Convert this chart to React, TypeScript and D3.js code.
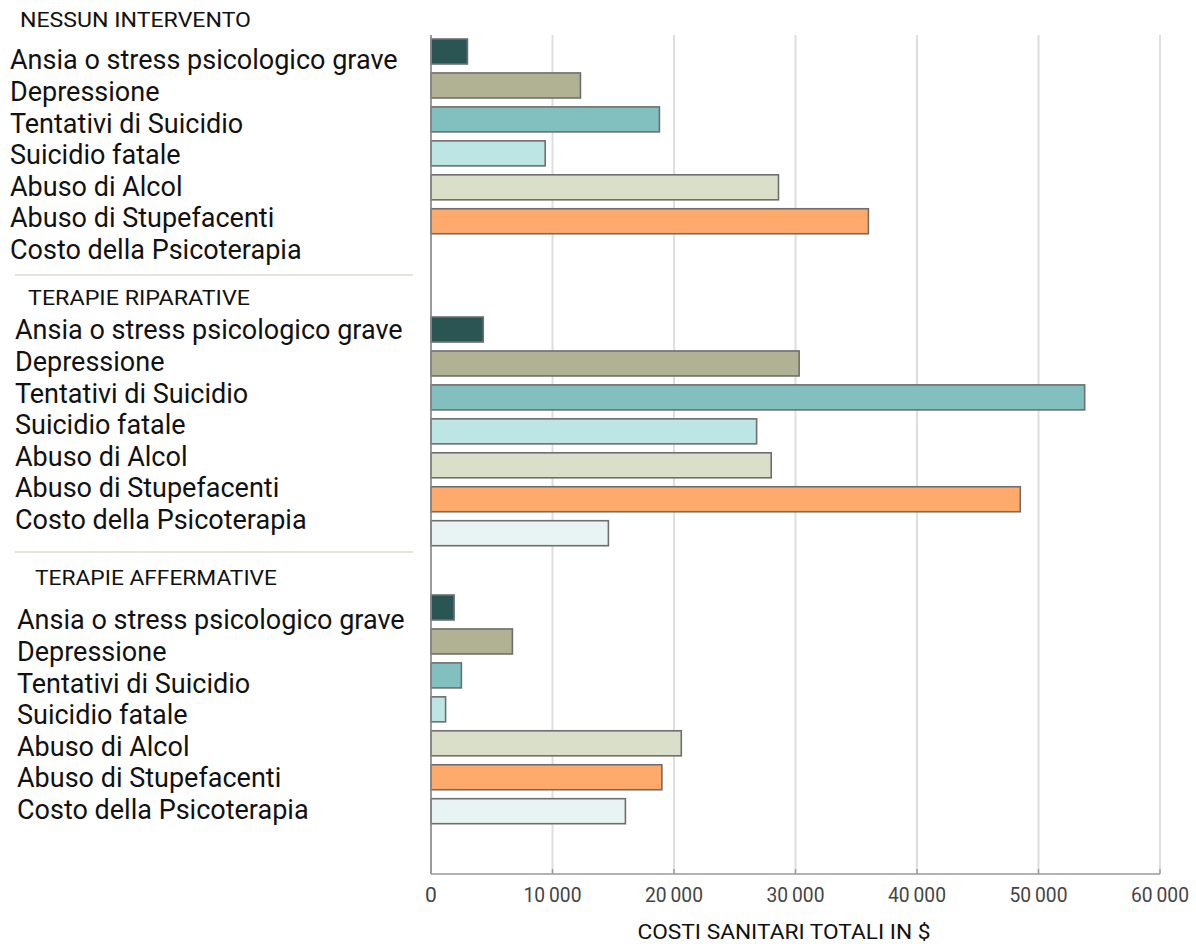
import React from "react";
import * as d3 from "d3";

const categories = [
  "Ansia o stress psicologico grave",
  "Depressione",
  "Tentativi di Suicidio",
  "Suicidio fatale",
  "Abuso di Alcol",
  "Abuso di Stupefacenti",
  "Costo della Psicoterapia",
];

const groups = ["NESSUN INTERVENTO", "TERAPIE RIPARATIVE", "TERAPIE AFFERMATIVE"];

const nessunIntervento = [3000, 12300, 18800, 9400, 28600, 36000, 0];
const terapieRiparative = [4300, 30300, 53800, 26800, 28000, 48500, 14600];
const terapieAffermative = [1900, 6700, 2500, 1200, 20600, 19000, 16000];

const seriesValues = [nessunIntervento, terapieRiparative, terapieAffermative];

const xTicks = [0, 10000, 20000, 30000, 40000, 50000, 60000];
const xTitle = "COSTI SANITARI TOTALI IN $";

const colors = ["#2b5553", "#b1b193", "#82c0bf", "#bde5e4", "#dadfc9", "#fdaa6c", "#e8f3f4"];

const W = 1196;
const H = 944;

export default function App() {
  const x = d3.scaleLinear().domain([0, 60000]).range([431, 1160]);
  const fmt = d3.formatLocale({ decimal: ",", thousands: "\u2009", grouping: [3], currency: ["", "$"] }).format(",d");

  const groupBarTop = [39, 317, 595];
  const step = 33.95;
  const barH = 25;
  const labelX = [10, 15, 17];
  const labelTop = [60, 330, 620];
  const labelStep = 31.6;
  const headerPos = [
    { x: 20, y: 20, w: 231 },
    { x: 28, y: 298, w: 222 },
    { x: 35, y: 578, w: 242 },
  ];
  const seps = [275, 552];
  const axisY = 874;
  const font = "Roboto, 'Noto Sans', sans-serif";

  return (
    <svg width={W} height={H} style={{ position: "absolute", left: 0, top: 0, background: "#fff" }}>
      {xTicks.map((t) => (
        <line key={"g" + t} x1={x(t)} x2={x(t)} y1={35} y2={axisY} stroke="#dedede" strokeWidth={2} />
      ))}
      {seps.map((s) => (
        <line key={"s" + s} x1={15} x2={413} y1={s} y2={s} stroke="#e6e4da" strokeWidth={2} />
      ))}
      {groups.map((g, gi) => {
        const y = d3
          .scaleBand<string>()
          .domain(categories)
          .range([groupBarTop[gi], groupBarTop[gi] + 6 * step + barH])
          .paddingInner(1 - barH / step)
          .paddingOuter(0);
        const ly = d3
          .scalePoint<string>()
          .domain(categories)
          .range([labelTop[gi], labelTop[gi] + 6 * labelStep]);
        return (
          <g key={g}>
            <text x={headerPos[gi].x} y={headerPos[gi].y} dy="0.35em" fontFamily={font} fontSize={20} fill="#111"
              textLength={headerPos[gi].w} lengthAdjust="spacingAndGlyphs">
              {g}
            </text>
            {categories.map((c) => (
              <text key={c} x={labelX[gi]} y={ly(c)} dy="0.35em" fontFamily={font} fontSize={27} fill="#111">
                {c}
              </text>
            ))}
            {categories.map((c, i) => {
              const v = seriesValues[gi][i];
              if (!v) return null;
              return (
                <rect
                  key={"b" + c}
                  x={x(0)}
                  y={y(c)}
                  width={x(v) - x(0)}
                  height={y.bandwidth()}
                  fill={colors[i]}
                  stroke="#6e6e6e"
                  strokeWidth={1.6}
                />
              );
            })}
          </g>
        );
      })}
      <line x1={x(0)} x2={x(0)} y1={35} y2={axisY} stroke="#8a8a8a" strokeWidth={1.6} />
      <line x1={x(0)} x2={x(60000)} y1={axisY} y2={axisY} stroke="#9a9a9a" strokeWidth={1.4} />
      {xTicks.map((t) => (
        <g key={"t" + t}>
          <line x1={x(t)} x2={x(t)} y1={axisY - 5} y2={axisY} stroke="#9a9a9a" strokeWidth={1.4} />
          <text x={x(t)} y={895} dy="0.35em" textAnchor="middle" fontFamily={font} fontSize={21} fill="#444"
            {...(t > 0 ? { textLength: 58, lengthAdjust: "spacingAndGlyphs" } : {})}>
            {fmt(t)}
          </text>
        </g>
      ))}
      <text x={784} y={932} dy="0.35em" textAnchor="middle" fontFamily={font} fontSize={21} fill="#111"
        textLength={293} lengthAdjust="spacingAndGlyphs">
        {xTitle}
      </text>
    </svg>
  );
}
